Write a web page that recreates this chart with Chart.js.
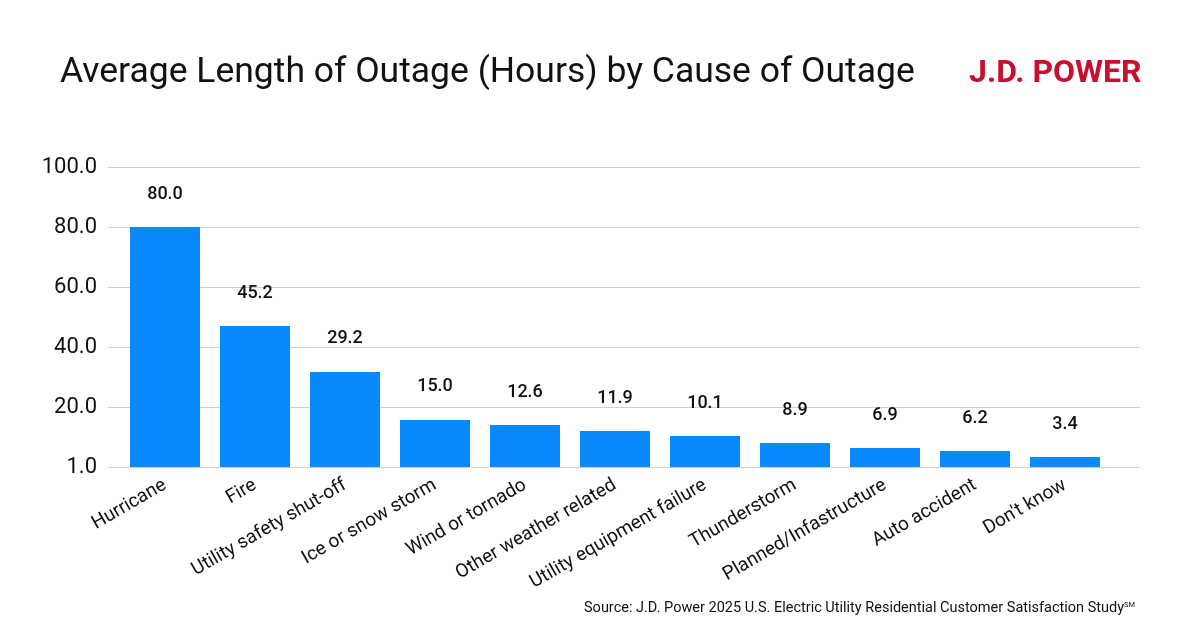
<!DOCTYPE html>
<html>
<head>
<meta charset="utf-8">
<script src="https://cdn.jsdelivr.net/npm/chart.js@4.4.1/dist/chart.umd.min.js"></script>
<style>
  html, body { margin: 0; padding: 0; background: #ffffff; }
  #wrap { position: relative; width: 1200px; height: 640px; overflow: hidden; font-family: Roboto, "Noto Sans", sans-serif; }
  #c { position: absolute; left: 0; top: 0; }
  .title { position: absolute; left: 60px; top: 53px; font-size: 35.5px; line-height: 35.5px; color: #111; white-space: nowrap; }
  .logo { position: absolute; left: 969px; top: 55px; font-size: 32px; line-height: 32px; font-weight: 700; color: #c8102e; letter-spacing: 0px; white-space: nowrap; }
  .source { position: absolute; left: 584px; top: 601px; font-size: 14.5px; line-height: 14.5px; color: #111; white-space: nowrap; }
  .source sup { font-size: 7.5px; vertical-align: 5px; line-height: 0; }
</style>
</head>
<body>
<div id="wrap">
  <canvas id="c" width="1200" height="640"></canvas>
  <div class="title">Average Length of Outage (Hours) by Cause of Outage</div>
  <div class="logo">J.D. POWER</div>
  <div class="source">Source: J.D. Power 2025 U.S. Electric Utility Residential Customer Satisfaction Study<sup>SM</sup></div>
</div>
<script>
const categories = ["Hurricane", "Fire", "Utility safety shut-off", "Ice or snow storm", "Wind or tornado",
  "Other weather related", "Utility equipment failure", "Thunderstorm", "Planned/Infastructure",
  "Auto accident", "Don't know"];
// bar heights as drawn in the reference
const barHeights = [80.0, 47.0, 31.7, 15.7, 14.0, 12.0, 10.3, 8.0, 6.3, 5.3, 3.3];
// value labels as printed above the bars
const valueLabels = ["80.0", "45.2", "29.2", "15.0", "12.6", "11.9", "10.1", "8.9", "6.9", "6.2", "3.4"];
const yTickValues = [0, 20, 40, 60, 80, 100];
const yTickLabels = ["1.0", "20.0", "40.0", "60.0", "80.0", "100.0"];

const gridPlugin = {
  id: 'extendedGrid',
  beforeDatasetsDraw(chart) {
    const ctx = chart.ctx, y = chart.scales.y, a = chart.chartArea;
    ctx.save();
    ctx.strokeStyle = '#cfcfcf';
    ctx.lineWidth = 1;
    yTickValues.forEach(v => {
      const py = Math.round(y.getPixelForValue(v)) + 0.5;
      ctx.beginPath();
      ctx.moveTo(a.left - 12, py);
      ctx.lineTo(a.right + 30, py);
      ctx.stroke();
    });
    ctx.restore();
  }
};

const labelPlugin = {
  id: 'valueLabels',
  afterDatasetsDraw(chart) {
    const ctx = chart.ctx;
    const meta = chart.getDatasetMeta(0);
    ctx.save();
    ctx.font = '500 18px Roboto';
    ctx.fillStyle = '#111';
    ctx.textAlign = 'center';
    ctx.textBaseline = 'middle';
    meta.data.forEach((bar, i) => {
      ctx.fillText(valueLabels[i], bar.x, bar.y - 33);
    });
    ctx.restore();
  }
};

new Chart(document.getElementById('c'), {
  type: 'bar',
  data: {
    labels: categories,
    datasets: [{
      data: barHeights,
      backgroundColor: '#0788fb',
      borderWidth: 0,
      categoryPercentage: 1.0,
      barPercentage: 70 / 90
    }]
  },
  options: {
    responsive: false,
    devicePixelRatio: 1,
    animation: false,
    layout: { padding: { top: 167, right: 90, bottom: 0, left: 0 } },
    plugins: { legend: { display: false }, tooltip: { enabled: false }, title: { display: false } },
    scales: {
      x: {
        grid: { display: false, drawTicks: false },
        border: { display: false },
        ticks: {
          autoSkip: false, maxRotation: 30, minRotation: 30, padding: 7,
          color: '#111', font: { family: 'Roboto', size: 19 }
        },
        afterFit(scale) { scale.height = 173; }
      },
      y: {
        min: 0, max: 100,
        grid: { display: false, drawTicks: false },
        border: { display: false },
        afterBuildTicks(scale) { scale.ticks = yTickValues.map(v => ({ value: v })); },
        ticks: {
          padding: 23, color: '#111', font: { family: 'Roboto', size: 22 },
          callback(value) { const i = yTickValues.indexOf(value); return i >= 0 ? yTickLabels[i] : ''; }
        },
        afterFit(scale) { scale.width = 120; }
      }
    }
  },
  plugins: [gridPlugin, labelPlugin]
});
</script>
</body>
</html>
